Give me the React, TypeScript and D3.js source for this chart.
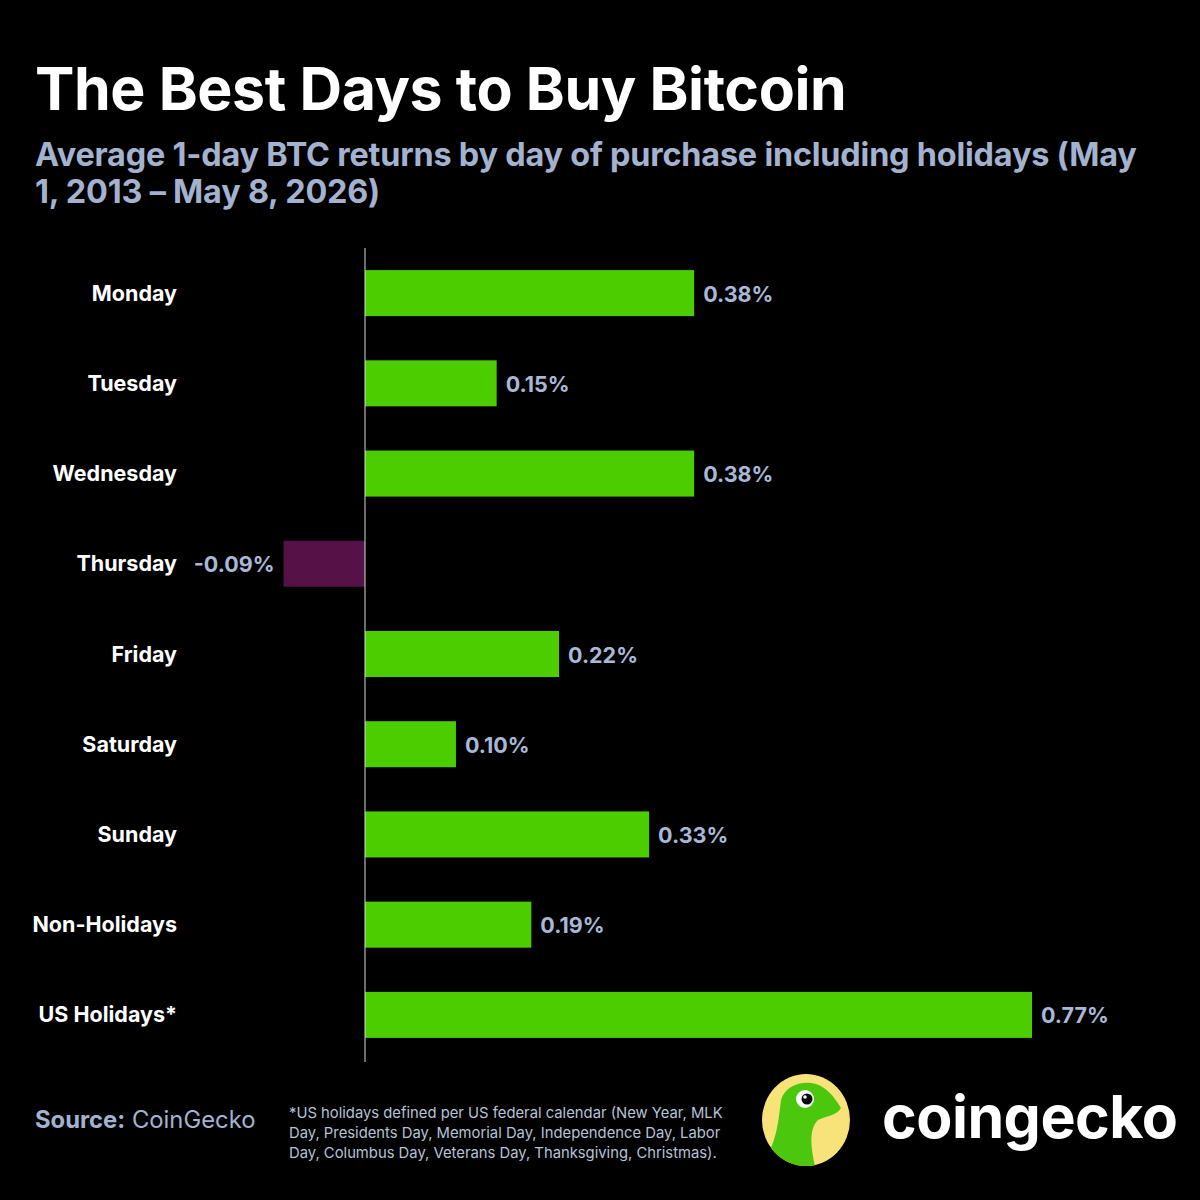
import React from "react";
import * as d3 from "d3";

const categories = ["Monday", "Tuesday", "Wednesday", "Thursday", "Friday", "Saturday", "Sunday", "Non-Holidays", "US Holidays*"];
const values = [0.38, 0.152, 0.38, -0.094, 0.224, 0.105, 0.328, 0.192, 0.77];
const valueLabels = ["0.38%", "0.15%", "0.38%", "-0.09%", "0.22%", "0.10%", "0.33%", "0.19%", "0.77%"];

const W = 1200, H = 1200;
const FONT = "Inter, 'Noto Sans', sans-serif";

export default function App() {
  const x = d3.scaleLinear().domain([0, 0.77]).range([365, 1032]);
  const y = d3.scaleBand<string>().domain(categories).range([248, 1060]).paddingInner(0.49).paddingOuter(0.245);
  const bh = y.bandwidth();
  return (
    <svg width={W} height={H} viewBox={`0 0 ${W} ${H}`} style={{ display: "block", position: "absolute", left: 0, top: 0, background: "#000" }}>
      <rect x={0} y={0} width={W} height={H} fill="#000" />
      <text x={35} y={110} fill="#fff" fontFamily={FONT} fontWeight={700} fontSize={59} letterSpacing={-0.4}>The Best Days to Buy Bitcoin</text>
      <text x={35} y={166} fill="#a3b3cf" fontFamily={FONT} fontWeight={700} fontSize={32.4} letterSpacing={-0.2}>Average 1-day BTC returns by day of purchase including holidays (May</text>
      <text x={35} y={203} fill="#a3b3cf" fontFamily={FONT} fontWeight={700} fontSize={32.4} letterSpacing={-0.2}>1, 2013 – May 8, 2026)</text>
      {categories.map((c, i) => {
        const v = values[i];
        const y0 = y(c)!;
        const x0 = Math.min(x(0), x(v));
        const w = Math.abs(x(v) - x(0));
        const pos = v >= 0;
        return (
          <g key={c}>
            <rect x={x0} y={y0} width={w} height={bh} fill={pos ? "#4ccd00" : "#561146"} />
            <text x={177} y={y0 + bh / 2} dy="0.35em" textAnchor="end" fill="#fff" fontFamily={FONT} fontWeight={700} fontSize={21.5}>{c}</text>
            <text x={pos ? x(v) + 9 : x(v) - 9} y={y0 + bh / 2 + 1} dy="0.35em" textAnchor={pos ? "start" : "end"} fill="#a9b8d6" fontFamily={FONT} fontWeight={700} fontSize={21.5}>{valueLabels[i]}</text>
          </g>
        );
      })}
      <line x1={x(0)} x2={x(0)} y1={248} y2={1062} stroke="#d9d9d9" strokeWidth={1} />
      <text x={35} y={1128} fontFamily={FONT} fontSize={23.8} fill="#a3b3cf">
        <tspan fontWeight={700}>Source:</tspan>
        <tspan fontWeight={400}> CoinGecko</tspan>
      </text>
      <g fontFamily={FONT} fontSize={14.8} fill="#b7c2d6">
        <text x={289} y={1118}>*US holidays defined per US federal calendar (New Year, MLK</text>
        <text x={289} y={1138}>Day, Presidents Day, Memorial Day, Independence Day, Labor</text>
        <text x={289} y={1158}>Day, Columbus Day, Veterans Day, Thanksgiving, Christmas).</text>
      </g>
      <g transform="translate(806,1120)">
        <ellipse rx={44} ry={46} fill="#f8e27a" />
        <clipPath id="lc"><ellipse rx={44} ry={46} /></clipPath>
        <path clipPath="url(#lc)" fill="#4bc80d" d="M-25,-20 C-20,-38 5,-42 18,-32 C26,-26 30,-20 35,-12 C30,-4 20,-4 12,0 C2,10 5,30 10,50 L-50,50 C-30,30 -28,5 -25,-20 Z" />
        <circle cx={-1} cy={-21} r={9} fill="#fff" />
        <circle cx={1} cy={-21} r={5.5} fill="#0a0a0a" />
        <circle cx={-1} cy={-23} r={1.8} fill="#fff" />
      </g>
      <text x={882} y={1138} fill="#fff" fontFamily={FONT} fontWeight={700} fontSize={59} letterSpacing={-0.5}>coingecko</text>
    </svg>
  );
}
